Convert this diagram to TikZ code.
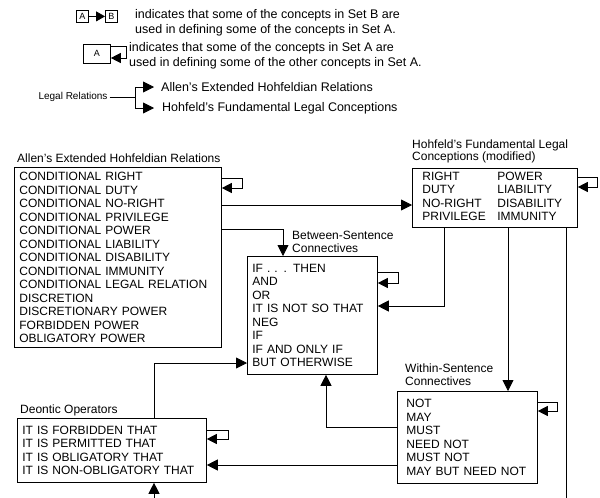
\documentclass[tikz,border=0pt]{standalone}
\usepackage{fontspec}
\setmainfont{Liberation Sans}
\usetikzlibrary{arrows.meta,positioning,calc}

\newcommand{\boxfont}{\fontsize{12}{13.5}\selectfont}
\newcommand{\titlefont}{\fontsize{12}{12.8}\selectfont}
\newcommand{\legendfont}{\fontsize{12.5}{15}\selectfont}

\tikzset{
  conceptbox/.style={draw, line width=0.8pt, anchor=north west, align=left,
    font=\boxfont, inner ysep=0pt},
  settitle/.style={inner sep=0pt, align=left, font=\titlefont},
  legendtext/.style={inner sep=0pt, align=left, font=\legendfont},
  keybox/.style={draw, line width=0.8pt, inner sep=0pt, anchor=north west,
    font=\fontsize{9}{9}\selectfont},
  link/.style={line width=0.75pt, -{Triangle[length=11pt,width=11pt]}},
  selfloop/.style={line width=0.75pt, -{Triangle[length=10pt,width=10pt]}},
}

\begin{document}
\begin{tikzpicture}[x=1pt,y=-1pt]
    \useasboundingbox (0,0) rectangle (600,498);

    % Legend
    \node[keybox, minimum width=12pt, minimum height=12pt] (keyA) at (76,10) {A};
    \node[keybox, minimum width=12pt, minimum height=12pt] (keyB) at (105,10) {B};
    \draw[link, -{Triangle[length=9pt,width=10pt]}] (keyA) -- (keyB);
    \node[legendtext, anchor=west] (keyABtext) at (135,23)
        {indicates that some of the concepts in Set B are\\used in defining some of the concepts in Set A.};

    \node[keybox, minimum width=27pt, minimum height=19pt] (keyself) at (83,44) {A};
    \draw[selfloop] ([yshift=-2pt]keyself.north east) -- ++(16,0) -- ++(0,12) -- ++(-16,0);
    \node[legendtext, anchor=west] (keyselftext) at (129,56)
        {indicates that some of the concepts in Set A are\\used in defining some of the other concepts in Set A.};

    \node[font=\fontsize{10}{10}\selectfont, inner sep=2pt] (legal) at (73,97) {Legal Relations};
    \coordinate (fork) at (135,97);
    \node[legendtext, anchor=west] (keyallen) at (161,87) {Allen's Extended Hohfeldian Relations};
    \node[legendtext, anchor=west] (keyhohfeld) at (162,108) {Hohfeld's Fundamental Legal Conceptions};
    \draw[line width=0.75pt] (legal) -- (fork);
    \draw[link, shorten >=7pt] (fork) |- (keyallen.west);
    \draw[link, shorten >=8pt] (fork) |- (keyhohfeld.west);

    % Sets of concepts
    \node[conceptbox, minimum width=207pt, minimum height=180pt, text width=197pt, inner xsep=5pt] (allen) at (14,167)
        {CONDITIONAL RIGHT\\CONDITIONAL DUTY\\CONDITIONAL NO-RIGHT\\CONDITIONAL PRIVILEGE\\CONDITIONAL POWER\\
         CONDITIONAL LIABILITY\\CONDITIONAL DISABILITY\\CONDITIONAL IMMUNITY\\CONDITIONAL LEGAL RELATION\\
         DISCRETION\\DISCRETIONARY POWER\\FORBIDDEN POWER\\OBLIGATORY POWER};
    \node[settitle, anchor=base west] (allentitle) at (17,162) {Allen's Extended Hohfeldian Relations};

    \node[conceptbox, minimum width=165pt, minimum height=59pt, text width=145pt, inner xsep=10pt] (hohfeld) at (412,168)
        {\begin{tabular}{@{}p{75pt}@{}l@{}}
         RIGHT & POWER\\ DUTY & LIABILITY\\ NO-RIGHT & DISABILITY\\ PRIVILEGE & IMMUNITY
         \end{tabular}};
    \node[settitle, anchor=south west] (hohfeldtitle) at (412,163.5) {Hohfeld's Fundamental Legal\\Conceptions (modified)};

    \node[conceptbox, minimum width=130pt, minimum height=118pt, text width=120pt, inner xsep=5pt] (between) at (247,256)
        {IF . . . THEN\\AND\\OR\\IT IS NOT SO THAT\\NEG\\IF\\IF AND ONLY IF\\BUT OTHERWISE};
    \node[settitle, anchor=south west] (betweentitle) at (292,253) {Between-Sentence\\Connectives};

    \node[conceptbox, minimum width=140pt, minimum height=92pt, text width=122pt, inner xsep=9pt] (within) at (397,391)
        {NOT\\MAY\\MUST\\NEED NOT\\MUST NOT\\MAY BUT NEED NOT};
    \node[settitle, anchor=south west] (withintitle) at (405,386) {Within-Sentence\\Connectives};

    \node[conceptbox, minimum width=189pt, minimum height=64pt, text width=179pt, inner xsep=5pt] (deontic) at (17,418)
        {IT IS FORBIDDEN THAT\\IT IS PERMITTED THAT\\IT IS OBLIGATORY THAT\\IT IS NON-OBLIGATORY THAT};
    \node[settitle, anchor=base west] (deontictitle) at (20,413) {Deontic Operators};

    % Self loops
    \draw[selfloop] ([yshift=-11pt]allen.north east) -- ++(21,0) -- ++(0,10) -- ++(-21,0);
    \draw[selfloop] ([yshift=-9pt]hohfeld.north east) -- ++(20,0) -- ++(0,10) -- ++(-20,0);
    \draw[selfloop] ([yshift=-16pt]between.north east) -- ++(21,0) -- ++(0,11) -- ++(-21,0);
    \draw[selfloop] ([yshift=-11pt]within.north east) -- ++(20,0) -- ++(0,9) -- ++(-20,0);
    \draw[selfloop] ([yshift=-12pt]deontic.north east) -- ++(22,0) -- ++(0,9) -- ++(-22,0);

    % Links between sets
    \draw[link] (allen.east |- 0,205) -- (hohfeld.west |- 0,205);
    \draw[link] (allen.east |- 0,229) -| ([xshift=36pt]between.north west);
    \draw[link] ([xshift=32pt]hohfeld.south west) |- (between.east |- 0,306);
    \draw[link] ([xshift=96pt]hohfeld.south west) -- ([xshift=111pt]within.north west);
    \draw[link] (within.west |- 0,427) -| ([xshift=79pt]between.south west);
    \draw[link] (within.west |- 0,465) -- (deontic.east |- 0,465);
    \draw[link] ([xshift=137pt]deontic.north west) |- (between.west |- 0,363);

    % Link running off the page
    \coordinate (exitdown) at (566,498);
    \coordinate (entryup) at (154,498);
    \draw[line width=0.75pt] ([xshift=154pt]hohfeld.south west) -- (exitdown);
    \draw[link] (entryup) -- ([xshift=137pt]deontic.south west);
\end{tikzpicture}
\end{document}
